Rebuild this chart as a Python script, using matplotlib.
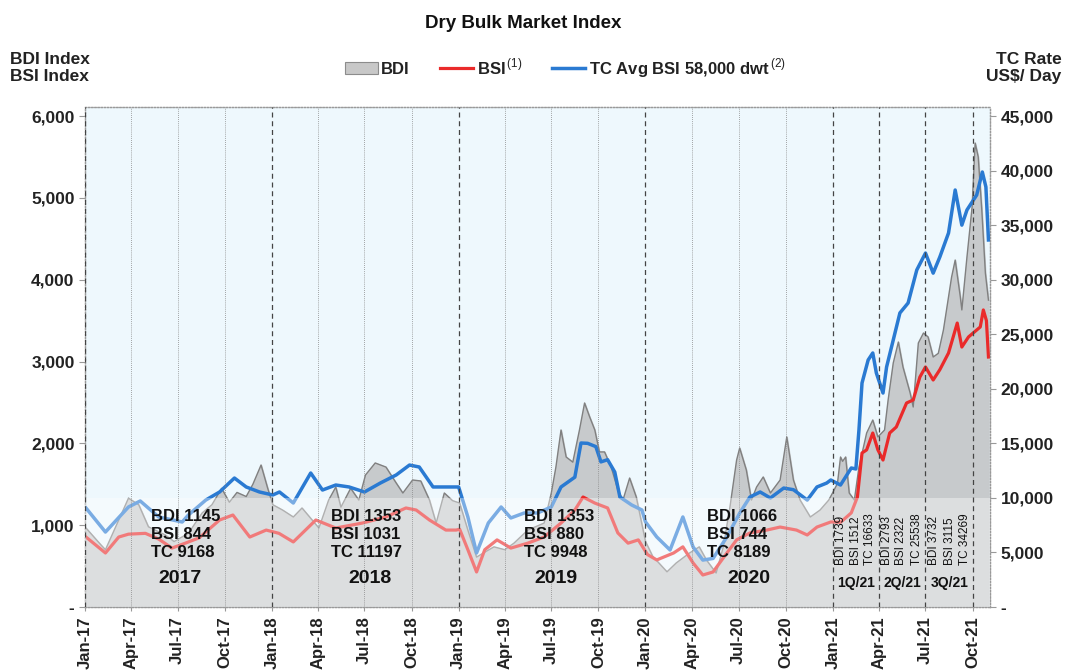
import pandas as pd
import matplotlib
matplotlib.use("Agg")
import matplotlib.pyplot as plt
import matplotlib.dates as mdates
from matplotlib.patches import Patch
from matplotlib.lines import Line2D
from matplotlib.ticker import FuncFormatter

plt.rcParams['font.family'] = ['Liberation Sans', 'DejaVu Sans']
plt.rcParams['mathtext.fontset'] = 'custom'
plt.rcParams['mathtext.rm'] = 'Liberation Sans'

# ---- data ----
bdi_dates = [
    "2017-01-03", "2017-02-01", "2017-02-10", "2017-03-27", "2017-04-16", "2017-05-05",
    "2017-06-07", "2017-06-24", "2017-07-22", "2017-08-18", "2017-09-06", "2017-09-25",
    "2017-10-10", "2017-10-25", "2017-11-12", "2017-11-25", "2017-12-11", "2017-12-24",
    "2018-01-03", "2018-01-22", "2018-02-12", "2018-03-01", "2018-04-03", "2018-04-22",
    "2018-05-06", "2018-05-16", "2018-06-04", "2018-06-20", "2018-07-03", "2018-07-22",
    "2018-08-12", "2018-09-01", "2018-09-14", "2018-10-03", "2018-10-19", "2018-11-05",
    "2018-11-18", "2018-12-04", "2018-12-20", "2019-01-03", "2019-01-19", "2019-02-05",
    "2019-02-21", "2019-03-11", "2019-04-01", "2019-04-19", "2019-05-16", "2019-06-17",
    "2019-07-01", "2019-07-10", "2019-07-20", "2019-07-30", "2019-08-12", "2019-08-25",
    "2019-09-04", "2019-09-14", "2019-09-24", "2019-10-03", "2019-10-13", "2019-10-26",
    "2019-11-08", "2019-11-18", "2019-12-01", "2019-12-14", "2020-01-01", "2020-01-15",
    "2020-02-12", "2020-03-01", "2020-03-27", "2020-04-15", "2020-04-29", "2020-05-18",
    "2020-06-01", "2020-06-14", "2020-06-27", "2020-07-03", "2020-07-16", "2020-07-26",
    "2020-08-05", "2020-08-18", "2020-09-01", "2020-09-20", "2020-10-03", "2020-10-16",
    "2020-10-29", "2020-11-18", "2020-12-07", "2020-12-24", "2021-01-01", "2021-01-10",
    "2021-01-16", "2021-01-20", "2021-01-26", "2021-02-02", "2021-02-12", "2021-02-21",
    "2021-03-08", "2021-03-20", "2021-03-30", "2021-04-12", "2021-04-19", "2021-04-29",
    "2021-05-09", "2021-05-18", "2021-06-01", "2021-06-07", "2021-06-17", "2021-06-27",
    "2021-07-06", "2021-07-16", "2021-07-26", "2021-08-05", "2021-08-21", "2021-08-28",
    "2021-09-07", "2021-09-10", "2021-09-20", "2021-09-30", "2021-10-06", "2021-10-12",
    "2021-10-19", "2021-10-26", "2021-11-01",
]
bdi_values = [
    965, 760, 700, 1330, 1250, 980,
    880, 800, 900, 1150, 1250, 1450,
    1280, 1400, 1350, 1500, 1735, 1450,
    1250, 1185, 1100, 1210, 965, 1307,
    1466, 1220, 1450, 1307, 1613, 1760,
    1710, 1515, 1393, 1552, 1540, 1307,
    1026, 1393, 1300, 1270, 940, 610,
    670, 735, 700, 780, 940, 1026,
    1393, 1710, 2163, 1833, 1770, 2163,
    2493, 2322, 2163, 1895, 1895, 1710,
    1430, 1307, 1576, 1344, 800, 620,
    430, 538, 660, 735, 575, 415,
    735, 1222, 1796, 1943, 1674, 1307,
    1466, 1589, 1393, 1552, 2078, 1552,
    1307, 1100, 1185, 1307, 1400, 1510,
    1833, 1780, 1833, 1393, 1307, 1710,
    2126, 2285, 2078, 2163, 2530, 2982,
    3238, 2933, 2615, 2444, 3226, 3348,
    3300, 3055, 3100, 3385, 4033, 4240,
    3790, 3630, 4277, 4888, 5670, 5500,
    4850, 4080, 3750,
]

bsi_dates = [
    "2017-01-03", "2017-02-10", "2017-03-08", "2017-03-27", "2017-04-29", "2017-05-25",
    "2017-06-20", "2017-07-16", "2017-08-12", "2017-09-21", "2017-10-17", "2017-11-19",
    "2017-12-21", "2018-01-15", "2018-02-12", "2018-03-28", "2018-05-06", "2018-06-27",
    "2018-08-12", "2018-09-20", "2018-10-10", "2018-11-05", "2018-12-07", "2018-12-27",
    "2019-01-03", "2019-01-19", "2019-02-05", "2019-02-21", "2019-03-17", "2019-04-13",
    "2019-05-16", "2019-06-17", "2019-07-20", "2019-08-16", "2019-09-01", "2019-09-24",
    "2019-10-19", "2019-11-08", "2019-11-28", "2019-12-18", "2020-01-05", "2020-01-23",
    "2020-02-25", "2020-03-14", "2020-04-03", "2020-04-22", "2020-05-12", "2020-06-08",
    "2020-06-27", "2020-07-23", "2020-08-25", "2020-09-20", "2020-10-22", "2020-11-12",
    "2020-12-01", "2020-12-28", "2021-01-16", "2021-02-06", "2021-02-18", "2021-02-27",
    "2021-03-08", "2021-03-20", "2021-03-30", "2021-04-09", "2021-04-22", "2021-05-05",
    "2021-05-25", "2021-06-07", "2021-06-20", "2021-07-01", "2021-07-16", "2021-07-29",
    "2021-08-15", "2021-09-01", "2021-09-10", "2021-09-23", "2021-10-16", "2021-10-22",
    "2021-10-28", "2021-11-01",
]
bsi_values = [
    855, 660, 855, 890, 900, 830,
    720, 780, 845, 1063, 1124, 855,
    940, 900, 795, 1063, 965, 1026,
    1100, 1210, 1185, 1063, 940, 940,
    950, 700, 428, 700, 820, 720,
    780, 855, 1026, 1185, 1344, 1270,
    1210, 905, 780, 820, 640, 575,
    660, 735, 538, 391, 428, 660,
    820, 905, 940, 977, 940, 880,
    977, 1039, 1035, 1150, 1344, 1882,
    1920, 2126, 1920, 1796, 2126, 2200,
    2493, 2530, 2810, 2933, 2774, 2900,
    3104, 3470, 3177, 3300, 3422, 3630,
    3500, 3055,
]

tc_dates = [
    "2017-01-03", "2017-02-10", "2017-03-27", "2017-04-19", "2017-05-25", "2017-07-10",
    "2017-07-22", "2017-08-25", "2017-09-21", "2017-10-20", "2017-11-12", "2017-12-08",
    "2018-01-03", "2018-01-16", "2018-02-12", "2018-03-18", "2018-04-10", "2018-05-06",
    "2018-06-01", "2018-07-01", "2018-08-01", "2018-09-01", "2018-09-27", "2018-10-16",
    "2018-11-12", "2018-12-14", "2019-01-01", "2019-01-19", "2019-02-05", "2019-02-28",
    "2019-03-25", "2019-04-13", "2019-05-09", "2019-06-04", "2019-07-01", "2019-07-20",
    "2019-08-16", "2019-08-28", "2019-09-10", "2019-09-26", "2019-10-06", "2019-10-19",
    "2019-11-02", "2019-11-12", "2019-12-05", "2019-12-25", "2020-01-01", "2020-01-23",
    "2020-02-18", "2020-03-14", "2020-04-03", "2020-04-22", "2020-05-12", "2020-06-08",
    "2020-07-03", "2020-07-23", "2020-08-12", "2020-09-01", "2020-09-27", "2020-10-16",
    "2020-11-12", "2020-12-01", "2020-12-20", "2020-12-28", "2021-01-16", "2021-02-06",
    "2021-02-15", "2021-02-21", "2021-02-27", "2021-03-11", "2021-03-20", "2021-03-27",
    "2021-04-09", "2021-04-16", "2021-04-29", "2021-05-12", "2021-05-28", "2021-06-14",
    "2021-07-01", "2021-07-16", "2021-07-29", "2021-08-15", "2021-08-28", "2021-09-10",
    "2021-09-20", "2021-10-09", "2021-10-20", "2021-10-27", "2021-11-01",
]
tc_values = [
    9070, 6870, 9165, 9715, 8250, 7790,
    8430, 9800, 10540, 11820, 11000, 10540,
    10265, 10540, 9530, 12280, 10720, 11180,
    11000, 10540, 11360, 12100, 13010, 12830,
    11000, 11000, 11000, 8250, 4950, 7700,
    9165, 8160, 8615, 8615, 9165, 11000,
    11900, 15030, 15000, 14700, 13300, 13500,
    12370, 10080, 9350, 8890, 7800, 6420,
    5225, 8250, 5500, 4300, 4450, 6420,
    8600, 10080, 10540, 9990, 10900, 10750,
    9800, 11000, 11360, 11640, 11180, 12740,
    12650, 16220, 20530, 22640, 23280, 21450,
    19610, 22000, 24470, 26950, 27860, 30890,
    32440, 30600, 32080, 34280, 38220, 35000,
    36390, 37760, 39870, 38500, 33640,
]

# yearly / quarterly averages written on the chart
year_labels = ["2017", "2018", "2019", "2020"]
year_notes = ["BDI 1145\nBSI 844\nTC 9168", "BDI 1353\nBSI 1031\nTC 11197",
              "BDI 1353\nBSI 880\nTC 9948", "BDI 1066\nBSI 744\nTC 8189"]
quarter_labels = ["1Q/21", "2Q/21", "3Q/21"]
quarter_notes = [["BDI 1739", "BSI 1512", "TC 16633"],
                 ["BDI 2793", "BSI 2322", "TC 25538"],
                 ["BDI 3732", "BSI 3115", "TC 34269"]]

bdi_dates = pd.to_datetime(bdi_dates)
bsi_dates = pd.to_datetime(bsi_dates)
tc_dates = pd.to_datetime(tc_dates)

txt = '#222222'
fig = plt.figure(figsize=(10.66, 6.71), dpi=100)
ax = fig.add_axes([0.0797, 0.0954, 0.849, 0.7451])
ax.set_facecolor('#eef8fd')

ax.fill_between(bdi_dates, bdi_values, color='#c7cacc', zorder=1)
ax.plot(bdi_dates, bdi_values, color='#808080', lw=1.0, zorder=2)
ax.plot(bsi_dates, bsi_values, color='#ea2a2a', lw=2.3, zorder=3,
        solid_joinstyle='round')

ax.set_xlim(pd.Timestamp("2017-01-01"), pd.Timestamp("2021-11-04"))
ax.set_ylim(0, 6110)
ax.set_yticks(range(0, 6001, 1000))
ax.yaxis.set_major_formatter(FuncFormatter(lambda v, p: '-' if v == 0 else f'{int(v):,}'))

ax2 = ax.twinx()
ax2.plot(tc_dates, tc_values, color='#2a7ad2', lw=2.5, zorder=3,
         solid_joinstyle='round')
ax2.set_ylim(0, 6110 * 7.5)
ax2.set_yticks(range(0, 45001, 5000))
ax2.yaxis.set_major_formatter(FuncFormatter(lambda v, p: '-' if v == 0 else f'{int(v):,}'))

# whitish veil over the lower part of the chart
ax2.axhspan(0, 10000, color='white', alpha=0.38, lw=0, zorder=4)

# vertical guides
quarters = pd.date_range("2017-01-01", "2021-10-01", freq="QS")
for q in quarters:
    if q.month == 1 or q.year == 2021:
        ax2.axvline(q, color='#444444', lw=0.9, ls=(0, (4, 3)), zorder=5)
    else:
        ax2.axvline(q, color='#888888', lw=0.6, ls=(0, (1, 1.5)), zorder=5)

for a in (ax, ax2):
    for s in a.spines.values():
        s.set_color('#999999')
        s.set_linestyle((0, (1, 1.5)))
        s.set_linewidth(0.9)

ax.xaxis.set_major_locator(mdates.MonthLocator(bymonth=[1, 4, 7, 10]))
ax.xaxis.set_major_formatter(mdates.DateFormatter('%b-%y'))
ax.tick_params(axis='x', labelrotation=90, labelsize=12, colors=txt, length=3, color='#999999')
ax.tick_params(axis='y', labelsize=12.5, colors=txt, length=4, color='#999999')
ax2.tick_params(axis='y', labelsize=12.5, colors=txt, length=4, color='#999999')
for lab in ax.get_xticklabels() + ax.get_yticklabels() + ax2.get_yticklabels():
    lab.set_fontweight('bold')

# yearly notes
note_x = ["2017-05-10", "2018-04-27", "2019-05-09", "2020-05-01"]
year_x = ["2017-07-05", "2018-07-12", "2019-07-10", "2020-07-20"]
for lab, note, nx, yx in zip(year_labels, year_notes, note_x, year_x):
    ax2.text(pd.Timestamp(nx), 885, note, transform=ax.transData, ha='left', va='center',
             fontsize=12, fontweight='bold', color='#111111', linespacing=1.25, zorder=6)
    ax2.text(pd.Timestamp(yx), 350, lab, transform=ax.transData, ha='center', va='center',
             fontsize=14, fontweight='bold', color='#111111', zorder=6)

# quarterly notes for 2021
q_note_x = [["2021-01-16", "2021-02-15", "2021-03-14"],
            ["2021-04-16", "2021-05-15", "2021-06-14"],
            ["2021-07-17", "2021-08-18", "2021-09-17"]]
q_lab_x = ["2021-02-15", "2021-05-16", "2021-08-18"]
for lab, notes, xs, lx in zip(quarter_labels, quarter_notes, q_note_x, q_lab_x):
    for n, x in zip(notes, xs):
        ax2.text(pd.Timestamp(x), 515, n, transform=ax.transData, rotation=90,
                 ha='center', va='bottom', fontsize=8.5, color='#111111', zorder=6)
    ax2.text(pd.Timestamp(lx), 290, lab, transform=ax.transData, ha='center', va='center',
             fontsize=10, fontweight='bold', color='#111111', zorder=6)

# titles and axis captions
fig.text(0.491, 0.965, 'Dry Bulk Market Index', ha='center', va='center',
         fontsize=13.5, fontweight='bold', color='#111111')
fig.text(0.009, 0.899, 'BDI Index\nBSI Index', ha='left', va='center',
         fontsize=12.5, fontweight='bold', color=txt, linespacing=1.15)
fig.text(0.996, 0.899, 'TC Rate\nUS\\$/ Day', ha='right', va='center',
         fontsize=12.5, fontweight='bold', color=txt, linespacing=1.15)

handles = [Patch(facecolor='#c8c8c8', edgecolor='#8c8c8c', lw=0.8),
           Line2D([], [], color='#ea2a2a', lw=2.3),
           Line2D([], [], color='#2a7ad2', lw=2.5)]
labels = ['BDI', r'BSI$^{\,(1)}$', r'TC Avg BSI 58,000 dwt$^{\,(2)}$']
fig.legend(handles, labels, loc='center', bbox_to_anchor=(0.53, 0.899), ncol=3,
           frameon=False, prop={'weight': 'bold', 'size': 12}, handlelength=2.0,
           handletextpad=0.2, columnspacing=1.8, labelcolor=txt)

fig.savefig('out.png', dpi=100)
